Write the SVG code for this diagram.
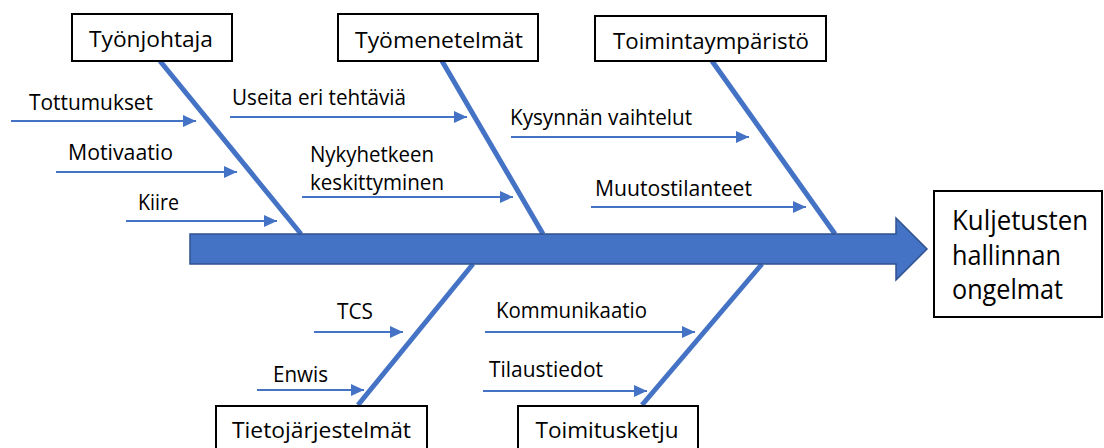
<svg xmlns="http://www.w3.org/2000/svg" width="1104" height="448" viewBox="0 0 1104 448">
<style>
.box{fill:#fff;stroke:#000;stroke-width:2}
.lbl{font-family:"Open Sans","Liberation Sans",sans-serif;font-size:21px;fill:#000}
.big{font-family:"Open Sans","Liberation Sans",sans-serif;font-size:27px;fill:#000}
.bone{stroke:#4472C4;stroke-width:5;fill:none}
.sub{stroke:#4472C4;stroke-width:2;fill:none;marker-end:url(#ah)}
</style>
<defs>
<marker id="ah" markerUnits="userSpaceOnUse" markerWidth="13" markerHeight="12" refX="13" refY="6" orient="auto">
<path d="M0,0 L13,6 L0,12 Z" fill="#4472C4"/>
</marker>
</defs>
<rect width="1104" height="448" fill="#fff"/>
<g id="connectors">
<line class="bone" x1="160" y1="61" x2="301" y2="234"/>
<line class="bone" x1="442" y1="61" x2="543" y2="234"/>
<line class="bone" x1="712" y1="61" x2="835" y2="234"/>
<line class="bone" x1="473" y1="264" x2="358" y2="405"/>
<line class="bone" x1="762" y1="264" x2="642" y2="405"/>
<path id="spine" d="M190,234 H896 V218 L927,249 L896,280 V264 H190 Z" fill="#4472C4" stroke="#2F528F" stroke-width="1.5"/>
<line class="sub" x1="11" y1="121" x2="196" y2="121"/>
<line class="sub" x1="56" y1="172" x2="237" y2="172"/>
<line class="sub" x1="126" y1="221" x2="277" y2="221"/>
<line class="sub" x1="230" y1="117" x2="467" y2="117"/>
<line class="sub" x1="302" y1="197" x2="513" y2="197"/>
<line class="sub" x1="511" y1="137" x2="749" y2="137"/>
<line class="sub" x1="591" y1="207" x2="806" y2="207"/>
<line class="sub" x1="314" y1="332" x2="403" y2="332"/>
<line class="sub" x1="257" y1="390" x2="364" y2="390"/>
<line class="sub" x1="485" y1="332" x2="695" y2="332"/>
<line class="sub" x1="483" y1="391" x2="647" y2="391"/>
</g>
<g id="tyonjohtaja">
<rect class="box" x="72" y="14" width="160" height="47"/>
<text class="lbl" x="151" y="47" text-anchor="middle" textLength="124" lengthAdjust="spacingAndGlyphs">Työnjohtaja</text>
<text class="lbl" x="29" y="110" textLength="124" lengthAdjust="spacingAndGlyphs">Tottumukset</text>
<text class="lbl" x="68" y="160" textLength="105" lengthAdjust="spacingAndGlyphs">Motivaatio</text>
<text class="lbl" x="138" y="210" textLength="41" lengthAdjust="spacingAndGlyphs">Kiire</text>
</g>
<g id="tyomenetelmat">
<rect class="box" x="338" y="14" width="200" height="47"/>
<text class="lbl" x="439" y="48" text-anchor="middle" textLength="168" lengthAdjust="spacingAndGlyphs">Työmenetelmät</text>
<text class="lbl" x="232" y="105" textLength="174" lengthAdjust="spacingAndGlyphs">Useita eri tehtäviä</text>
<text class="lbl" x="310" y="162" textLength="124" lengthAdjust="spacingAndGlyphs">Nykyhetkeen</text>
<text class="lbl" x="310" y="190" textLength="134" lengthAdjust="spacingAndGlyphs">keskittyminen</text>
</g>
<g id="toimintaymparisto">
<rect class="box" x="595" y="16" width="231" height="45"/>
<text class="lbl" x="711" y="49" text-anchor="middle" textLength="196" lengthAdjust="spacingAndGlyphs">Toimintaympäristö</text>
<text class="lbl" x="510" y="125" textLength="182" lengthAdjust="spacingAndGlyphs">Kysynnän vaihtelut</text>
<text class="lbl" x="595" y="196" textLength="157" lengthAdjust="spacingAndGlyphs">Muutostilanteet</text>
</g>
<g id="tietojarjestelmat">
<rect class="box" x="216" y="406" width="211" height="60"/>
<text class="lbl" x="321.5" y="438" text-anchor="middle" textLength="179" lengthAdjust="spacingAndGlyphs">Tietojärjestelmät</text>
<text class="lbl" x="337" y="319" textLength="36" lengthAdjust="spacingAndGlyphs">TCS</text>
<text class="lbl" x="273" y="382" textLength="55" lengthAdjust="spacingAndGlyphs">Enwis</text>
</g>
<g id="toimitusketju">
<rect class="box" x="518" y="406" width="180" height="60"/>
<text class="lbl" x="607" y="438" text-anchor="middle" textLength="143" lengthAdjust="spacingAndGlyphs">Toimitusketju</text>
<text class="lbl" x="496" y="318" textLength="151" lengthAdjust="spacingAndGlyphs">Kommunikaatio</text>
<text class="lbl" x="489" y="377" textLength="114" lengthAdjust="spacingAndGlyphs">Tilaustiedot</text>
</g>
<g id="result">
<rect class="box" x="934" y="191" width="168" height="126"/>
<text class="big" x="952" y="230" textLength="136" lengthAdjust="spacingAndGlyphs">Kuljetusten</text>
<text class="big" x="952" y="265" textLength="109" lengthAdjust="spacingAndGlyphs">hallinnan</text>
<text class="big" x="952" y="299" textLength="111" lengthAdjust="spacingAndGlyphs">ongelmat</text>
</g>
</svg>
